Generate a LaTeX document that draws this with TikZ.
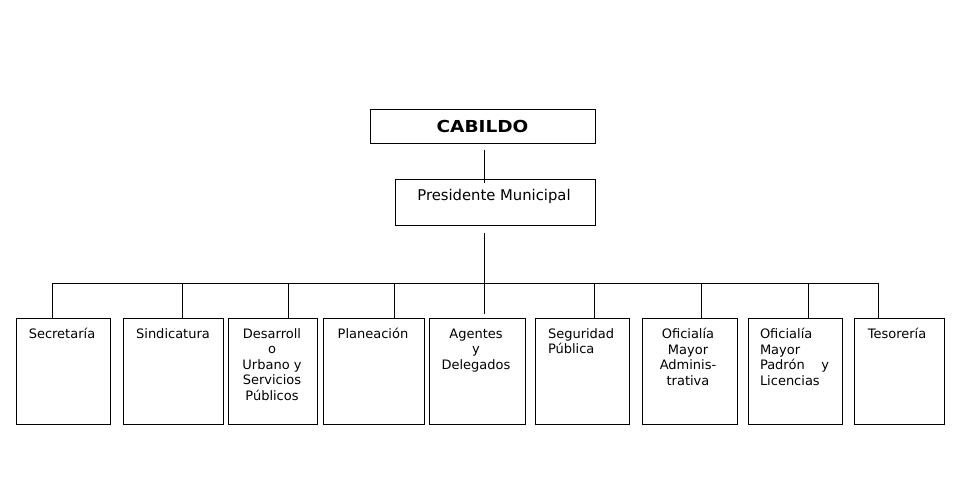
\documentclass[tikz,border=0pt]{standalone}
\usepackage{fontspec}
\setmainfont{DejaVu Sans}
\newcommand\myfl[1]{\rule{0pt}{#1pt}}
\begin{document}
\begin{tikzpicture}[x=1pt,y=-1pt,
  box/.style={draw, line width=1pt, inner sep=0pt, outer sep=0pt, rectangle, minimum height=106},
  lbl/.style={font=\fontsize{13}{15.6}\selectfont, inner sep=0pt, outer sep=0pt, anchor=north, align=center},
  lbll/.style={font=\fontsize{13}{15.6}\selectfont, inner sep=0pt, outer sep=0pt, anchor=north west, align=left},
  link/.style={line width=1pt}]
\useasboundingbox[fill=white] (0,0) rectangle (959,479);

% top boxes
\node[box, minimum width=225, minimum height=34] (cab) at (482.5,126) {};
\node[inner sep=0pt, anchor=north, font=\fontsize{16.5}{18}\selectfont\bfseries] (tcab) at (482.5,119.3) {\myfl{13}\scalebox{1.12}[1]{CABILDO}};
\node[box, minimum width=200, minimum height=46] (pres) at (495,202) {};
\node[inner sep=0pt, anchor=north, font=\fontsize{14.8}{17}\selectfont] (tpres) at (494,188.7) {\myfl{12}Presidente Municipal};

% bottom boxes
\node[box, minimum width=94]  (sec) at (63,371) {};
\node[box, minimum width=100] (sin) at (173,371) {};
\node[box, minimum width=89]  (des) at (272.5,371) {};
\node[box, minimum width=101] (pla) at (373.5,371) {};
\node[box, minimum width=96]  (age) at (477,371) {};
\node[box, minimum width=94]  (seg) at (582,371) {};
\node[box, minimum width=95]  (oma) at (689.5,371) {};
\node[box, minimum width=94]  (omp) at (795,371) {};
\node[box, minimum width=90]  (tes) at (899,371) {};

% texts
\node[lbl] (tsec) at (62,328) {\myfl{10}Secretaría};
\node[lbl] (tsin) at (173,328) {\myfl{10}Sindicatura};
\node[lbl] (tdes) at (272,328) {\myfl{10}Desarroll\\o\\Urbano y\\Servicios\\Públicos};
\node[lbl] (tpla) at (373,328) {\myfl{10}Planeación};
\node[lbl] (tage) at (476,328) {\myfl{10}Agentes\\y\\Delegados};
\node[lbll] (tseg) at (548,328) {\myfl{10}Seguridad\\Pública};
\node[lbl] (toma) at (688,328) {\myfl{10}Oficialía\\Mayor\\Adminis-\\trativa};
\node[lbll, text width=69] (tomp) at (760,328) {\myfl{10}Oficialía\\Mayor\\Padrón\hfill y\\Licencias};
\node[lbl] (ttes) at (897,328) {\myfl{10}Tesorería};

% connectors
\coordinate (a1) at (484,150);
\coordinate (a2) at (484,183);
\draw[link] (a1) -- (a2);
\coordinate (b1) at (484,233);
\coordinate (b2) at (484,314);
\draw[link] (b1) -- (b2);

\coordinate (dsec) at (52,283);
\coordinate (dsin) at (182,283);
\coordinate (ddes) at (288,283);
\coordinate (dpla) at (394,283);
\coordinate (dseg) at (594,283);
\coordinate (doma) at (701,283);
\coordinate (domp) at (808,283);
\coordinate (dtes) at (878,283);
\draw[link] (dsec) -- (dtes);
\foreach \d/\b in {dsec/sec, dsin/sin, ddes/des, dpla/pla, dseg/seg, doma/oma, domp/omp, dtes/tes}
  \draw[link] (\d) -- (\d |- \b.north);
\end{tikzpicture}
\end{document}
